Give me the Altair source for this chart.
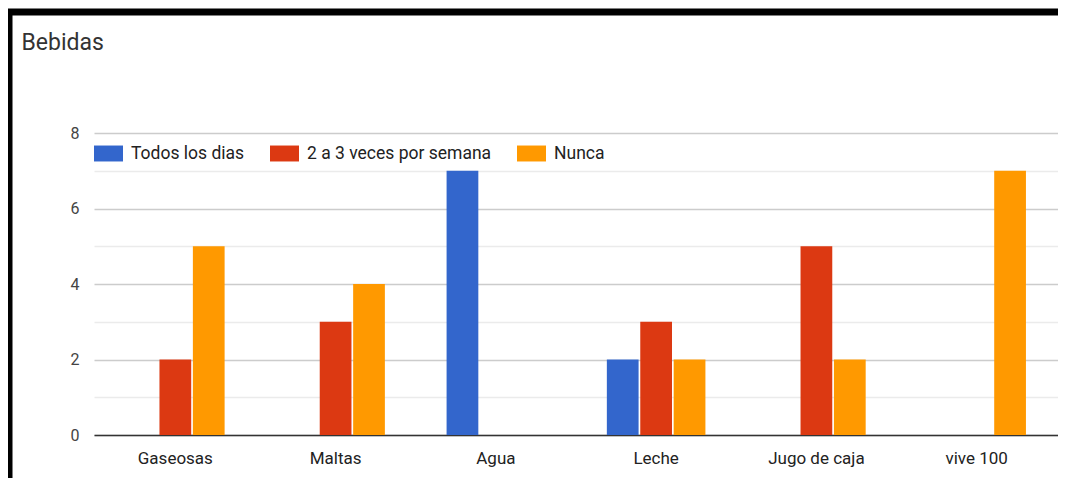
import altair as alt
import pandas as pd

categorias = ["Gaseosas", "Maltas", "Agua", "Leche", "Jugo de caja", "vive 100"]
series = ["Todos los dias", "2 a 3 veces por semana", "Nunca"]
todos_los_dias = [0, 0, 7, 2, 0, 0]
dos_a_tres = [2, 3, 0, 3, 5, 0]
nunca = [5, 4, 0, 2, 2, 7]
colores = ["#3366cc", "#dc3912", "#ff9900"]
y_ticks = [0, 1, 2, 3, 4, 5, 6, 7, 8]

rows = []
for s, vals in zip(series, [todos_los_dias, dos_a_tres, nunca]):
    for c, v in zip(categorias, vals):
        rows.append({"categoria": c, "serie": s, "valor": v})
df = pd.DataFrame(rows)

FONT = "Roboto"

bars = alt.Chart(df).mark_bar().encode(
    x=alt.X(
        "categoria:N",
        sort=categorias,
        title=None,
        scale=alt.Scale(paddingInner=0.385, paddingOuter=0.2),
        axis=alt.Axis(
            labelAngle=0,
            labelFont=FONT,
            labelFontSize=17,
            labelColor="#222222",
            labelPadding=15,
            ticks=False,
            domainColor="#333333",
            domainWidth=1.5,
            grid=False,
        ),
    ),
    xOffset=alt.XOffset("serie:N", sort=series, scale=alt.Scale(paddingInner=0.05)),
    y=alt.Y(
        "valor:Q",
        title=None,
        scale=alt.Scale(domain=[0, 8], nice=False),
        axis=alt.Axis(
            values=y_ticks,
            labelExpr="datum.value % 2 == 0 ? datum.label : ''",
            labelFont=FONT,
            labelFontSize=16,
            labelColor="#444444",
            labelPadding=15,
            ticks=False,
            domain=False,
            grid=True,
            gridColor={"condition": {"test": "datum.value % 2 == 0", "value": "#cccccc"}, "value": "#ebebeb"},
            gridWidth=1.3,
        ),
    ),
    color=alt.Color(
        "serie:N",
        sort=series,
        scale=alt.Scale(domain=series, range=colores),
        legend=alt.Legend(
            title=None,
            orient="none",
            legendX=0,
            legendY=6,
            direction="horizontal",
            symbolType="M-1,-0.55H1V0.55H-1Z",
            symbolSize=841,
            symbolStrokeWidth=0,
            symbolOpacity=1,
            labelFont=FONT,
            labelFontSize=17.5,
            labelColor="#222222",
            labelOffset=8,
            labelLimit=0,
            columnPadding=25,
        ),
    ),
)

frame = alt.Chart(alt.Data(values=[{"k": 1}])).mark_rect(
    fill=None, stroke="black", strokeWidth=7, clip=False
).encode(
    x=alt.value(-85),
    x2=alt.value(985),
    y=alt.value(-121),
    y2=alt.value(380),
)

chart = alt.layer(bars, frame).properties(
    width=964,
    height=302,
    autosize=alt.AutoSizeParams(type="none"),
    padding={"left": 86, "top": 125, "right": 0, "bottom": 43},
    title=alt.TitleParams(
        "Bebidas",
        anchor="start",
        font=FONT,
        fontSize=23,
        fontWeight="normal",
        color="#333333",
        dx=16,
        dy=50,
    ),
).configure_view(stroke=None)

chart.save("out.html", embed_options={"renderer": "svg", "actions": False})
